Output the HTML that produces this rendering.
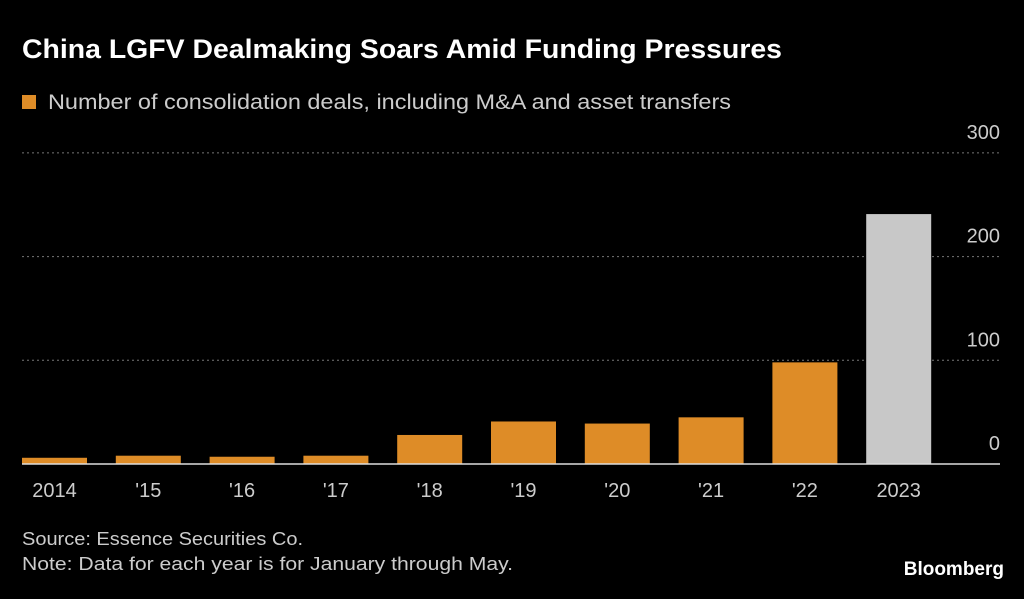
<!DOCTYPE html>
<html><head><meta charset="utf-8"><style>
body{margin:0;background:#000;width:1024px;height:594px;overflow:hidden;font-family:"Liberation Sans",sans-serif;color:#fff}
</style></head><body>
<svg width="1024" height="594">
<text x="22" y="58" font-size="27" font-weight="bold" fill="#fff" textLength="760" lengthAdjust="spacingAndGlyphs">China LGFV Dealmaking Soars Amid Funding Pressures</text>
<rect x="22" y="95" width="14" height="14" fill="#de8c27"/>
<text x="48" y="109" font-size="21" fill="#ccc" textLength="683" lengthAdjust="spacingAndGlyphs">Number of consolidation deals, including M&amp;A and asset transfers</text>
<g id="grid"></g><g id="bars"></g><g id="xl"></g>
<text x="22" y="545" font-size="18" fill="#ccc" textLength="281" lengthAdjust="spacingAndGlyphs">Source: Essence Securities Co.</text>
<text x="22" y="570" font-size="18" fill="#ccc" textLength="491" lengthAdjust="spacingAndGlyphs">Note: Data for each year is for January through May.</text>
<text x="1004" y="575" font-size="19" font-weight="bold" fill="#fff" text-anchor="end">Bloomberg</text>
</svg>
<script>
const categories=["2014","'15","'16","'17","'18","'19","'20","'21","'22","2023"];
const values=[6,8,7,8,28,41,39,45,98,241];
const ticks=[0,100,200,300];
const ns="http://www.w3.org/2000/svg";
const y0=464,k=103.7/100;
const y=v=>y0-v*k;
const x=i=>22+i*93.8;
function mk(t,a,p){const e=document.createElementNS(ns,t);for(const n in a)e.setAttribute(n,a[n]);document.getElementById(p).appendChild(e);return e;}
ticks.forEach(t=>{
 if(t>0){const l=mk("line",{x1:22,x2:1000,y1:y(t),y2:y(t),stroke:"#777","stroke-dasharray":"2,3"},"grid");
 
 }
 const tx=mk("text",{x:1000,y:y(t)-14,"font-size":20,fill:"#ccc","text-anchor":"end"},"grid");tx.textContent=t;
 
 
});
values.forEach((v,i)=>{
 const r=mk("rect",{x:x(i),y:y(v),width:65,height:y0-y(v),fill:i==9?"#c8c8c8":"#de8c27"},"bars");
 
 
 const t=mk("text",{x:x(i)+32.5,y:497,"font-size":20,fill:"#ccc","text-anchor":"middle"},"xl");t.textContent=categories[i];
 
 
});
const b=mk("line",{x1:22,x2:1000,y1:y0,y2:y0,stroke:"#ddd","stroke-width":1.5},"xl");


</script>
</body></html>
